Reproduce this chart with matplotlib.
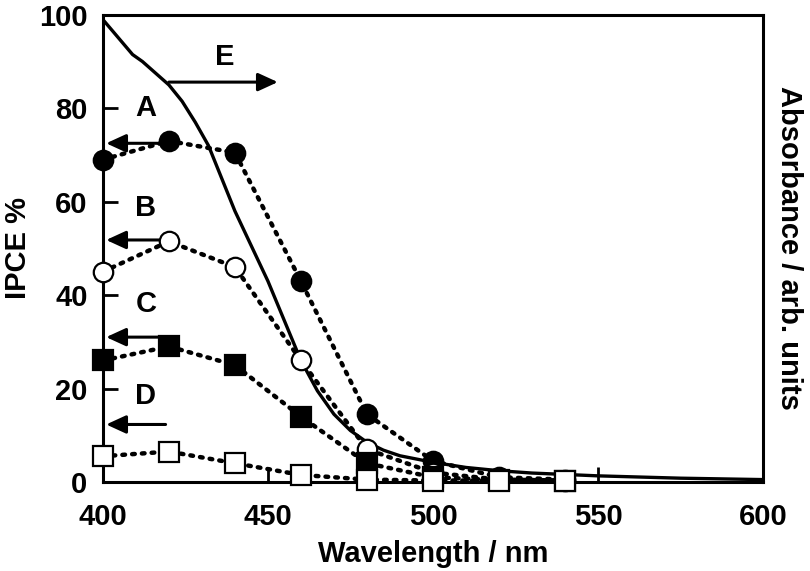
import matplotlib
matplotlib.use("Agg")
import matplotlib.pyplot as plt
import numpy as np

plt.rcParams['font.family'] = ['Liberation Sans', 'DejaVu Sans']
plt.rcParams['font.weight'] = 'bold'

# IPCE data (%)
wl = [400, 420, 440, 460, 480, 500, 520, 540]
ipce_a = [69, 73, 70.5, 43, 14.5, 4.5, 1.0, 0.5]
ipce_b = [45, 51.5, 46, 26, 7, 2, 0.5, 0.3]
ipce_c = [26, 29, 25, 14, 4, 1, 0.4, 0.3]
ipce_d = [5.5, 6.5, 4, 1.5, 0.5, 0.3, 0.3, 0.2]

# absorbance spectrum (arb. units, scaled 0-100)
abs_wl = [400, 403, 406, 409, 412, 416, 420, 424, 428, 432, 436, 440, 445,
          450, 455, 460, 465, 470, 475, 480, 485, 490, 500, 510, 520, 530,
          550, 575, 600]
abs_val = [99, 96.5, 94, 91.5, 90, 87.5, 85, 81.5, 77, 72, 65, 58, 50.5,
           43, 34.5, 26, 19.5, 14.5, 11, 8.5, 6.8, 5.6, 4.2, 3.1, 2.4, 1.9,
           1.3, 0.8, 0.5]

fig = plt.figure(figsize=(8.1, 5.71), dpi=100)
ax = fig.add_axes([0.127, 0.156, 0.815, 0.818])

dot = dict(color='black', linestyle=(0, (0.6, 1.6)), linewidth=3.2,
           dash_capstyle='round', markersize=14, markeredgewidth=1.6,
           markeredgecolor='black', clip_on=False, zorder=4)
ax.plot(wl, ipce_a, marker='o', markerfacecolor='black', **dot)
ax.plot(wl, ipce_b, marker='o', markerfacecolor='white', **dot)
ax.plot(wl, ipce_c, marker='s', markerfacecolor='black', **dot)
ax.plot(wl, ipce_d, marker='s', markerfacecolor='white', **dot)
ax.plot(abs_wl, abs_val, color='black', linewidth=2.4, zorder=3)

ax.set_xlim(400, 600)
ax.set_ylim(0, 100)
ax.set_xticks([400, 450, 500, 550, 600])
ax.set_yticks([0, 20, 40, 60, 80, 100])
ax.tick_params(direction='in', length=11, width=2, labelsize=21)
ax.tick_params(axis='x', pad=15)
ax.tick_params(axis='y', pad=11)
for s in ax.spines.values():
    s.set_linewidth(2.2)
ax.set_xlabel('Wavelength / nm', fontsize=21, fontweight='bold')
ax.set_ylabel('IPCE %', fontsize=21, fontweight='bold')
ax.xaxis.set_label_coords(0.5, -0.125)
ax.yaxis.set_label_coords(-0.108, 0.5)
ax.text(1.039, 0.5, 'Absorbance / arb. units', transform=ax.transAxes,
        rotation=270, ha='center', va='center', fontsize=21, fontweight='bold')

# arrows and labels
arr = dict(arrowstyle='-|>,head_length=1.2,head_width=0.55', color='black', lw=2.2,
           shrinkA=0, shrinkB=0)
ax.annotate('', xy=(401, 72.5), xytext=(420, 72.5), arrowprops=arr)
ax.annotate('', xy=(401, 51.8), xytext=(417, 51.8), arrowprops=arr)
ax.annotate('', xy=(401, 31), xytext=(420, 31), arrowprops=arr)
ax.annotate('', xy=(401, 12.3), xytext=(419, 12.3), arrowprops=arr)
ax.annotate('', xy=(453, 85.6), xytext=(420, 85.6), arrowprops=arr)
for lab, x, y in [('A', 413, 80), ('B', 413, 58.7), ('C', 413, 38),
                  ('D', 413, 18.5), ('E', 437, 91)]:
    ax.text(x, y, lab, fontsize=21, fontweight='bold', ha='center', va='center')

fig.savefig('out.png', dpi=100)
